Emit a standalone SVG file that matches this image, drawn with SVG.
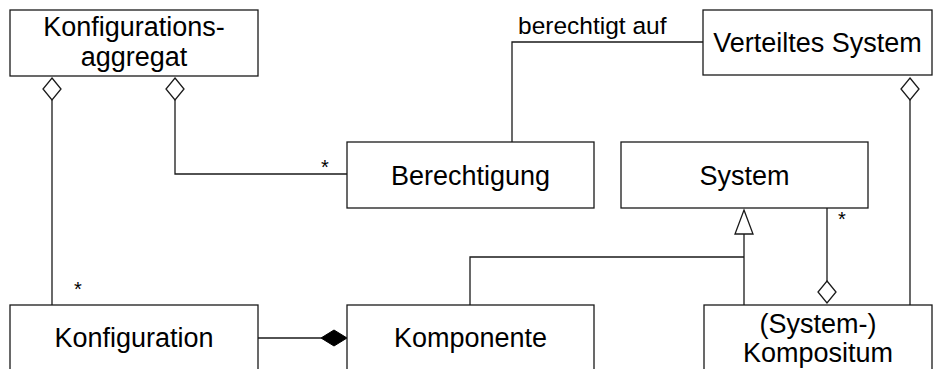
<svg xmlns="http://www.w3.org/2000/svg" width="941" height="369" viewBox="0 0 941 369">
<style>
.box{fill:#fff;stroke:#1a1a1a;stroke-width:1.3}
.t{font-family:"Liberation Sans",Arial,sans-serif;font-size:27px;fill:#000;text-anchor:middle}
.lbl{font-family:"Liberation Sans",Arial,sans-serif;font-size:24.5px;fill:#000}
.m{font-family:"Liberation Sans",Arial,sans-serif;font-size:20px;fill:#000;text-anchor:middle}
.ln{fill:none;stroke:#1a1a1a;stroke-width:1.3}
.od{fill:#fff;stroke:#1a1a1a;stroke-width:1.3}
.fd{fill:#000;stroke:#000;stroke-width:1}
</style>
<rect width="941" height="369" fill="#fff"/>
<g id="connectors">
  <path class="ln" d="M52,100 V305"/>
  <path class="od" d="M52,78 L61,89 L52,100 L43,89 Z"/>
  <path class="ln" d="M175,100 V174 H347"/>
  <path class="od" d="M175,78 L184,89 L175,100 L166,89 Z"/>
  <path class="ln" d="M512,142 V42 H703"/>
  <path class="ln" d="M910,100 V305"/>
  <path class="od" d="M910,78 L919,89 L910,100 L901,89 Z"/>
  <path class="ln" d="M827,208 V281"/>
  <path class="od" d="M827,281 L836,292 L827,303 L818,292 Z"/>
  <path class="ln" d="M744,234 V305"/>
  <path class="ln" d="M470,305 V257 H744"/>
  <path class="od" d="M744,210 L753,234 L735,234 Z"/>
  <path class="ln" d="M258,338 H321"/>
  <path class="fd" d="M321,338 L334,330 L347,338 L334,346 Z"/>
  <text class="lbl" x="518" y="34">berechtigt auf</text>
  <text class="m" x="78" y="295.5">*</text>
  <text class="m" x="325" y="173.5">*</text>
  <text class="m" x="842" y="225.5">*</text>
</g>
<g id="konfigurationsaggregat">
  <rect class="box" x="10" y="10" width="248" height="66"/>
  <text class="t" x="134" y="36">Konfigurations-</text>
  <text class="t" x="134" y="66">aggregat</text>
</g>
<g id="verteiltes-system">
  <rect class="box" x="703" y="10" width="229" height="65"/>
  <text class="t" x="817.5" y="52">Verteiltes System</text>
</g>
<g id="berechtigung">
  <rect class="box" x="347" y="142" width="247" height="66"/>
  <text class="t" x="470.5" y="184.5">Berechtigung</text>
</g>
<g id="system">
  <rect class="box" x="621" y="142" width="247" height="66"/>
  <text class="t" x="744.5" y="185">System</text>
</g>
<g id="konfiguration">
  <rect class="box" x="10" y="305" width="248" height="80"/>
  <text class="t" x="134" y="347">Konfiguration</text>
</g>
<g id="komponente">
  <rect class="box" x="347" y="305" width="247" height="80"/>
  <text class="t" x="470.5" y="347">Komponente</text>
</g>
<g id="kompositum">
  <rect class="box" x="704" y="305" width="228" height="80"/>
  <text class="t" x="818" y="333">(System-)</text>
  <text class="t" x="818" y="362">Kompositum</text>
</g>
</svg>
